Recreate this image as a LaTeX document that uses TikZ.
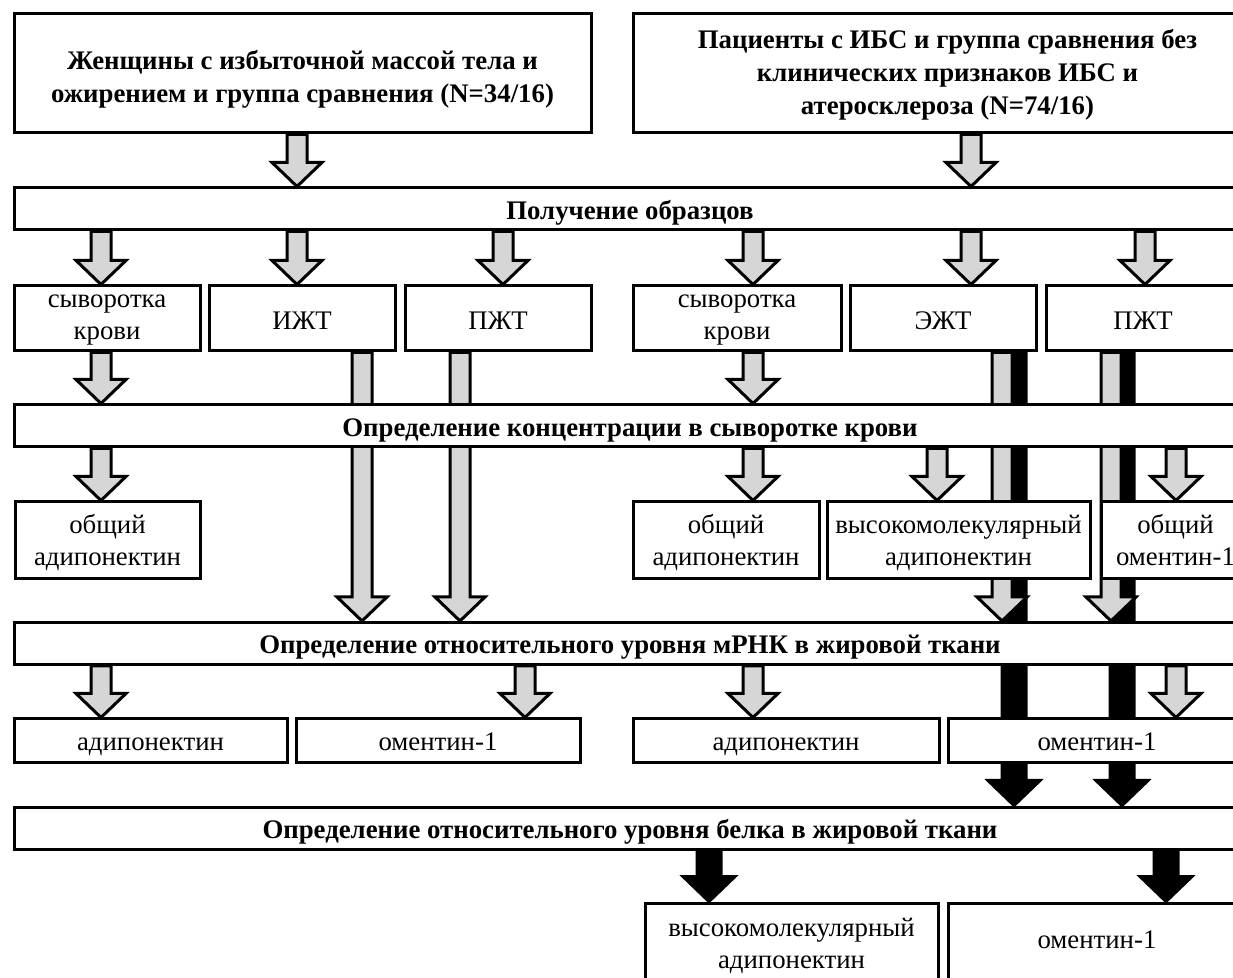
\documentclass[tikz,border=0pt]{standalone}
\usepackage{fontspec}
\setmainfont{Liberation Serif}
\usetikzlibrary{calc, backgrounds}

% wide outlined arrow: style, half shaft, half head, head length, x, from, to
\newcommand{\blockarrow}[7]{%
	\draw[#1] let \p1=(#6.south), \p2=(#7.north), \p3=(#5,0) in
		(\x3-#2,\y1) -- (\x3-#2,\y2+#4) -- (\x3-#3,\y2+#4) -- (\x3,\y2)
		-- (\x3+#3,\y2+#4) -- (\x3+#2,\y2+#4) -- (\x3+#2,\y1) -- cycle;}
\newcommand{\grayarrow}[3]{\blockarrow{gray arrow}{5pt}{12.5pt}{12pt}{#1}{#2}{#3}}
\newcommand{\blackarrow}[3]{\blockarrow{black arrow}{6pt}{13pt}{12.5pt}{#1}{#2}{#3}}
% first line height, last line depth, text
\newcommand{\celltext}[3]{\rule{0pt}{#1}#3\rule[-#2]{0pt}{#2}}

\begin{document}
\begin{tikzpicture}[x=0.5pt, y=-0.5pt,
		plain box/.style={draw, line width=1.5pt, fill=white, inner sep=0pt, align=center, font=\fontsize{13.4pt}{16pt}\selectfont},
		group box/.style={plain box, minimum height=59.5pt, font=\fontsize{13.4pt}{16.5pt}\selectfont\bfseries},
		stage bar/.style={plain box, minimum width=616pt, minimum height=21pt, text height=14pt, text depth=3.5pt, font=\fontsize{13.4pt}{16pt}\selectfont\bfseries},
		sample box/.style={plain box, minimum height=32.5pt},
		tissue box/.style={sample box, text height=11.5pt, text depth=0pt},
		serum box/.style={plain box, minimum height=38.5pt},
		mrna box/.style={plain box, minimum height=22pt, text height=13pt, text depth=3pt},
		protein box/.style={plain box, minimum height=38.5pt},
		gray arrow/.style={draw, line width=1.5pt, fill=black!16, line join=miter},
		black arrow/.style={draw, line width=1.5pt, fill=black, line join=miter}
		]
		\path[use as bounding box] (0,0) rectangle (1233,978);

		\node (group 1) at (302.5,73.5) [group box, minimum width=288.5pt] {\celltext{16pt}{3pt}{Женщины с избыточной массой тела и\\ожирением и группа сравнения (N=34/16)}};
		\node (group 2) at (947.5,73.5) [group box, minimum width=314.5pt] {\celltext{11.5pt}{3pt}{Пациенты с ИБС и группа сравнения без\\клинических признаков ИБС и\\атеросклероза (N=74/16)}};

		\node (sampling) at (630,209) [stage bar] {Получение образцов};
		\node (serum 1) at (107,318.5) [sample box, minimum width=93pt] {\celltext{8pt}{3pt}{сыворотка\\крови}};
		\node (VAT) at (302,318.5) [tissue box, minimum width=93pt] {ИЖТ};
		\node (SAT 1) at (498,318.5) [tissue box, minimum width=93pt] {ПЖТ};
		\node (serum 2) at (737,318.5) [sample box, minimum width=104pt] {\celltext{8pt}{3pt}{сыворотка\\крови}};
		\node (EAT) at (943,318.5) [tissue box, minimum width=93pt] {ЭЖТ};
		\node (SAT 2) at (1143,318.5) [tissue box, minimum width=97pt] {ПЖТ};

		\node (serum assay) at (630,426) [stage bar] {Определение концентрации в сыворотке крови};
		\node (total adipo 1) at (107.5,540.5) [serum box, minimum width=92.5pt] {\celltext{12.5pt}{3pt}{общий\\адипонектин}};
		\node (total adipo 2) at (726,540.5) [serum box, minimum width=93pt] {\celltext{12.5pt}{3pt}{общий\\адипонектин}};
		\node (hmw adipo) at (958.5,540.5) [serum box, minimum width=131.5pt] {\celltext{12.5pt}{3pt}{высокомолекулярный\\адипонектин}};
		\node (total omentin) at (1175.5,540.5) [serum box, minimum width=74.5pt] {\celltext{12.5pt}{3pt}{общий\\оментин-1}};

		\node (mrna assay) at (630,643.5) [stage bar] {Определение относительного уровня мРНК в жировой ткани};
		\node (adipo mrna 1) at (150.5,741) [mrna box, minimum width=136.5pt] {адипонектин};
		\node (omentin mrna 1) at (438,741) [mrna box, minimum width=142pt] {оментин-1};
		\node (adipo mrna 2) at (786,741) [mrna box, minimum width=153pt] {адипонектин};
		\node (omentin mrna 2) at (1097,741) [mrna box, minimum width=149pt] {оментин-1};

		\node (protein assay) at (630,828) [stage bar] {Определение относительного уровня белка в жировой ткани};
		\node (hmw protein) at (791.5,941.5) [protein box, minimum width=146.5pt] {\celltext{13.5pt}{3pt}{высокомолекулярный\\адипонектин}};
		\node (omentin protein) at (1097,941.5) [protein box, minimum width=149pt, text height=9.5pt, text depth=3pt] {оментин-1};

		\begin{scope}[on background layer]
			\grayarrow{297}{group 1}{sampling}
			\grayarrow{971}{group 2}{sampling}
			\grayarrow{101}{sampling}{serum 1}
			\grayarrow{297}{sampling}{VAT}
			\grayarrow{503}{sampling}{SAT 1}
			\grayarrow{753}{sampling}{serum 2}
			\grayarrow{971}{sampling}{EAT}
			\grayarrow{1145}{sampling}{SAT 2}
			\grayarrow{101}{serum 1}{serum assay}
			\grayarrow{753}{serum 2}{serum assay}
			\grayarrow{362}{VAT}{mrna assay}
			\grayarrow{460}{SAT 1}{mrna assay}
			% tissue goes on to the protein level
			\blackarrow{1014}{EAT}{protein assay}
			\blackarrow{1122}{SAT 2}{protein assay}
			\grayarrow{1002}{EAT}{mrna assay}
			\grayarrow{1111}{SAT 2}{mrna assay}
			\grayarrow{101}{serum assay}{total adipo 1}
			\grayarrow{753}{serum assay}{total adipo 2}
			\grayarrow{937}{serum assay}{hmw adipo}
			\grayarrow{1176}{serum assay}{total omentin}
			\grayarrow{101}{mrna assay}{adipo mrna 1}
			\grayarrow{525}{mrna assay}{omentin mrna 1}
			\grayarrow{753}{mrna assay}{adipo mrna 2}
			\grayarrow{1176}{mrna assay}{omentin mrna 2}
			\blackarrow{709}{protein assay}{hmw protein}
			\blackarrow{1166}{protein assay}{omentin protein}
		\end{scope}
	\end{tikzpicture}
\end{document}
